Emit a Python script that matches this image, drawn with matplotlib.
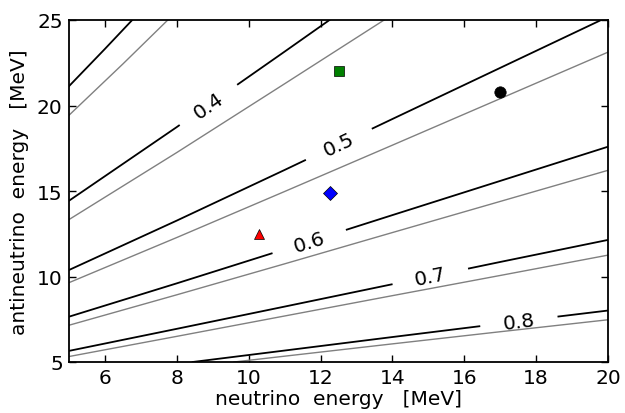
import numpy as np
import matplotlib
matplotlib.use("Agg")
import matplotlib.pyplot as plt

# contour levels (black: one set, gray: the other)
levels = [0.3, 0.4, 0.5, 0.6, 0.7, 0.8]
label_levels = ["", "0.4", "0.5", "0.6", "0.7", "0.8"]

black_x = [
    [5, 6, 6.76],
    [5, 8, 8.06, 9.70, 11, 12.25],
    [5, 8, 11, 11.57, 13.45, 14, 17, 19.81],
    [5, 8, 10.64, 12.73, 14, 17, 20],
    [5, 8, 11, 13.98, 16.13, 17, 20],
    [8.44, 11, 14, 16.42, 18.62, 20],
]
black_y = [
    [21.13, 23.31, 25],
    [14.43, 18.74, 18.83, 21.24, 23.15, 25],
    [10.38, 13.27, 16.23, 16.80, 18.66, 19.21, 22.20, 25],
    [7.65, 9.60, 11.35, 12.74, 13.59, 15.59, 17.59],
    [5.65, 6.94, 8.24, 9.54, 10.47, 10.85, 12.14],
    [5, 5.67, 6.46, 7.09, 7.66, 8.01],
]
# where the inline label cuts each black line (x at both ends of the gap)
gap_lo = [None, 8.06, 11.57, 10.64, 13.98, 16.42]
gap_hi = [None, 9.70, 13.45, 12.73, 16.13, 18.62]

gray_x = [
    [5, 6.5, 7.75],
    [5, 8, 11, 13.77],
    [5, 8, 11, 14, 17, 20],
    [5, 8, 11, 14, 17, 20],
    [5, 8, 11, 14, 17, 20],
    [9.59, 11, 14, 17, 20],
]
gray_y = [
    [19.43, 22.43, 25],
    [13.33, 17.25, 21.27, 25],
    [9.64, 12.28, 14.97, 17.68, 20.40, 23.12],
    [7.15, 8.93, 10.74, 12.57, 14.39, 16.21],
    [5.32, 6.50, 7.69, 8.88, 10.06, 11.25],
    [5, 5.34, 6.06, 6.77, 7.47],
]

point_x = [12.5, 17.0, 12.25, 10.3]
point_y = [22.0, 20.8, 14.9, 12.5]
point_marker = ["s", "o", "D", "^"]
point_color = ["green", "black", "blue", "red"]

fs = 14.5

fig = plt.figure(figsize=(6.25, 4.14), dpi=100)
ax = fig.add_axes([69 / 625, 1 - 363 / 414, 539 / 625, 342 / 414])
ax.set_xlim(5, 20)
ax.set_ylim(5, 25)

for xs, ys in zip(gray_x, gray_y):
    ax.plot(xs, ys, color="gray", lw=1.0)

for i, (xs, ys) in enumerate(zip(black_x, black_y)):
    xs = np.array(xs)
    ys = np.array(ys)
    if gap_lo[i] is None:
        ax.plot(xs, ys, color="black", lw=1.3)
        continue
    left = xs <= gap_lo[i]
    right = xs >= gap_hi[i]
    ax.plot(xs[left], ys[left], color="black", lw=1.3)
    ax.plot(xs[right], ys[right], color="black", lw=1.3)
    # label sits in the gap, rotated along the line
    x0, y0 = xs[left][-1], ys[left][-1]
    x1, y1 = xs[right][0], ys[right][0]
    p0 = ax.transData.transform((x0, y0))
    p1 = ax.transData.transform((x1, y1))
    ang = np.degrees(np.arctan2(p1[1] - p0[1], p1[0] - p0[0]))
    ax.text((x0 + x1) / 2, (y0 + y1) / 2, label_levels[i], rotation=ang,
            ha="center", va="center", rotation_mode="anchor", fontsize=fs)

sizes = {"s": 7.8, "o": 8.2, "D": 7.2, "^": 7.6}
for x, y, m, c in zip(point_x, point_y, point_marker, point_color):
    ax.plot(x, y, marker=m, color=c, ms=sizes[m], mec="black", mew=0.5, ls="none")

ax.set_xticks([6, 8, 10, 12, 14, 16, 18, 20])
ax.set_yticks([5, 10, 15, 20, 25])
ax.tick_params(direction="in", top=True, right=True, length=5, width=1,
               labelsize=fs, pad=4.5)
for s in ax.spines.values():
    s.set_linewidth(1.3)

ax.set_xlabel("neutrino  energy   [MeV]", fontsize=fs, labelpad=1)
ax.set_ylabel("antineutrino  energy   [MeV]", fontsize=fs, labelpad=6)

fig.savefig("out.png", dpi=100)
